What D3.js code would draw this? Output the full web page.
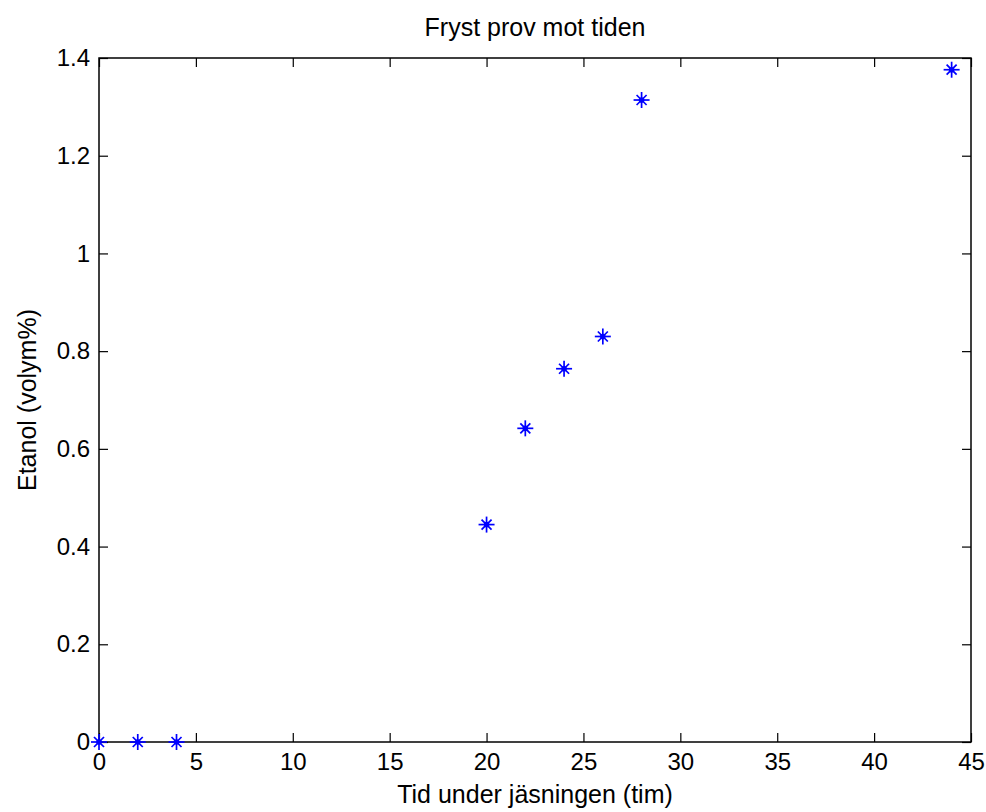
<!DOCTYPE html>
<html><head><meta charset="utf-8">
<script src="https://cdn.jsdelivr.net/npm/d3@7"></script>
<style>body{margin:0;background:#fff}svg{display:block}text{font-family:"Liberation Sans",Arial,sans-serif}</style>
</head><body>
<script>
const title = "Fryst prov mot tiden";
const xLabel = "Tid under jäsningen (tim)";
const yLabel = "Etanol (volym%)";
const timeHours = [0, 2, 4, 20, 22, 24, 26, 28, 44];
const ethanolVol = [0, 0, 0, 0.445, 0.642, 0.764, 0.830, 1.314, 1.376];
const xTicks = [0, 5, 10, 15, 20, 25, 30, 35, 40, 45];
const yTicks = [0, 0.2, 0.4, 0.6, 0.8, 1, 1.2, 1.4];

const W = 986, H = 812;
const m = {left: 99, right: 971, top: 58, bottom: 742};
const svg = d3.select("body").append("svg").attr("width", W).attr("height", H);
const x = d3.scaleLinear().domain([0, 45]).range([m.left, m.right]);
const y = d3.scaleLinear().domain([0, 1.4]).range([m.bottom, m.top]);
const fmt = d => d3.format("~g")(d);
const tl = 9;

svg.append("rect").attr("x", m.left).attr("y", m.top).attr("width", m.right - m.left).attr("height", m.bottom - m.top)
  .attr("fill", "none").attr("stroke", "#000").attr("stroke-width", 1.5);

const ax = (g, axis) => { g.call(axis); g.select(".domain").remove(); g.selectAll("line").attr("stroke", "#000").attr("stroke-width", 1.2);
  g.attr("font-size", null).attr("font-family", null);
  g.selectAll("text").attr("font-size", 24).attr("fill", "#000").style("font-family", '"Liberation Sans",Arial,sans-serif'); };

svg.append("g").attr("transform", `translate(0,${m.bottom})`).call(g => ax(g, d3.axisBottom(x).tickValues(xTicks).tickFormat(fmt).tickSizeInner(-tl).tickPadding(11)));
svg.append("g").attr("transform", `translate(0,${m.top})`).call(g => ax(g, d3.axisTop(x).tickValues(xTicks).tickFormat("").tickSizeInner(-tl)));
svg.append("g").attr("transform", `translate(${m.left},0)`).call(g => ax(g, d3.axisLeft(y).tickValues(yTicks).tickFormat(fmt).tickSizeInner(-tl).tickPadding(9)));
svg.append("g").attr("transform", `translate(${m.right},0)`).call(g => ax(g, d3.axisRight(y).tickValues(yTicks).tickFormat("").tickSizeInner(-tl)));

const pts = svg.append("g").selectAll("g").data(timeHours.map((t, i) => [t, ethanolVol[i]])).join("g")
  .attr("transform", d => `translate(${x(d[0])},${y(d[1])})`);
const r = 8, rd = 5;
const segs = [[-r,0,r,0],[0,-r,0,r],[-rd,-rd,rd,rd],[-rd,rd,rd,-rd]];
segs.forEach(s => pts.append("line").attr("x1", s[0]).attr("y1", s[1]).attr("x2", s[2]).attr("y2", s[3])
  .attr("stroke", "#0000ff").attr("stroke-width", 1.7));
pts.append("circle").attr("r", 2.8).attr("fill", "#0000ff");

svg.append("text").attr("x", (m.left + m.right) / 2).attr("y", 36).attr("text-anchor", "middle").attr("font-size", 25).text(title);
svg.append("text").attr("x", (m.left + m.right) / 2).attr("y", 803).attr("text-anchor", "middle").attr("font-size", 25).text(xLabel);
svg.append("text").attr("transform", `translate(36,${(m.top + m.bottom) / 2}) rotate(-90)`).attr("text-anchor", "middle").attr("font-size", 25).text(yLabel);
</script>
</body></html>
